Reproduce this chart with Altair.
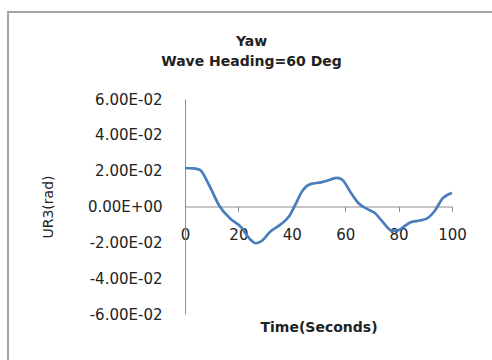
import altair as alt
import pandas as pd

time_s = [0, 3, 5.5, 9, 13, 17, 21, 24.5, 26.5, 28.5, 32, 36, 39, 41, 44, 47, 51, 54, 57, 59,
          62, 65, 68, 71, 74, 77.5, 80, 82, 84.5, 88, 90.5, 93.5, 96.5, 100]
ur3 = [0.0215, 0.0213, 0.0205, 0.012, 0.0, -0.0068, -0.0115, -0.0185, -0.0205, -0.0195,
       -0.014, -0.0098, -0.0055, 0.0, 0.0088, 0.0125, 0.0135, 0.0148, 0.016, 0.0148,
       0.008, 0.0018, -0.0012, -0.0035, -0.0085, -0.0135, -0.0132, -0.0112, -0.0088, -0.0078,
       -0.0068, -0.0025, 0.0045, 0.0075]
y_ticks = [-0.06, -0.04, -0.02, 0.0, 0.02, 0.04, 0.06]
x_ticks = [0, 20, 40, 60, 80, 100]

df = pd.DataFrame({"t": time_s, "v": ur3})

W, H = 267, 215
FONT = "DejaVu Sans"

label_expr = ("replace(replace(replace(replace(format(datum.value, '.2e'), '\u2212', '-'), "
              "'\u2212', '-'), 'e-', 'E-0'), 'e+', 'E+0')")

x_enc = alt.X("t:Q", scale=alt.Scale(domain=[0, 100], nice=False),
              axis=alt.Axis(values=x_ticks, title="Time(Seconds)", offset=-H / 2,
                            domainColor="#8c8c8c", tickColor="#8c8c8c", tickSize=5,
                            labelPadding=16, labelFlush=False, labelOverlap=False,
                            labelFont=FONT, labelFontSize=15, labelColor="#222",
                            titleFont=FONT, titleFontSize=14, titleFontWeight="bold",
                            titleColor="#222", titlePadding=78, grid=False))
y_enc = alt.Y("v:Q", scale=alt.Scale(domain=[-0.06, 0.06], nice=False),
              axis=alt.Axis(values=y_ticks, title="UR3(rad)",
                            labelExpr=label_expr,
                            domainColor="#8c8c8c", ticks=False, labelPadding=23,
                            labelFont=FONT, labelFontSize=15, labelColor="#222",
                            titleFont=FONT, titleFontSize=14, titleFontWeight="normal",
                            titleColor="#222", titlePadding=32, grid=False))

line = alt.Chart(df).mark_line(interpolate="monotone", color="#4a7ebb", strokeWidth=2.7).encode(
    x=x_enc, y=y_enc)

frame = alt.Chart(df).mark_rect(fill=None, stroke="#a6a6a6", strokeWidth=1.5, clip=False).encode(
    x=alt.value(-177), x2=alt.value(330), y=alt.value(-87), y2=alt.value(280))

chart = alt.layer(frame, line).properties(
    width=W, height=H,
    background="white",
    title=alt.TitleParams(["Yaw", "Wave Heading=60 Deg"], font=FONT, fontSize=14,
                          fontWeight="bold", color="#222", lineHeight=20, anchor="middle",
                          dx=-67, offset=0, dy=58),
    autosize=alt.AutoSizeParams(type="none"),
    padding={"left": 185, "top": 99, "right": 40, "bottom": 46},
).configure_view(strokeWidth=0)

chart.save("out.html", embed_options={"renderer": "svg", "actions": False})
